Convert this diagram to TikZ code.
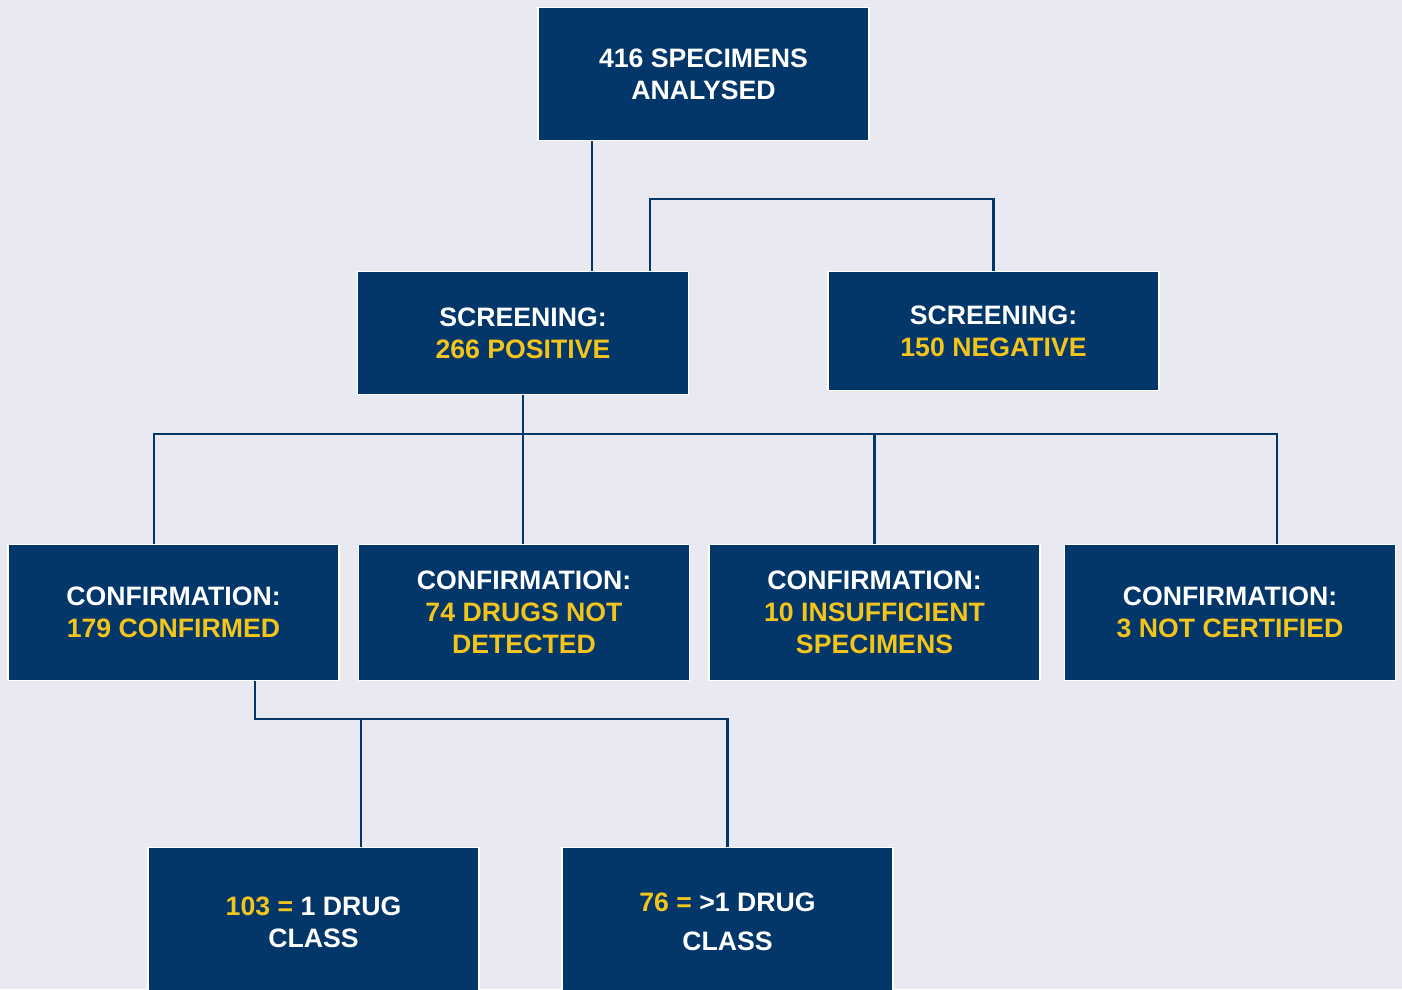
\documentclass[tikz,border=0pt]{standalone}
\usepackage{fontspec}
\setmainfont{Liberation Sans}
\definecolor{navy}{HTML}{03376A}
\definecolor{gold}{HTML}{F3C41C}
\definecolor{bg}{HTML}{E9EAF1}
\begin{document}
\begin{tikzpicture}[x=0.75pt,y=-0.75pt,
  box/.style={fill=navy,draw=white,line width=1.2pt,inner sep=0pt,align=center,
    text=white,font=\fontsize{20}{24}\selectfont\bfseries,minimum width=248pt},
  conn/.style={draw=navy,line width=1.6pt}]
\fill[bg] (0,0) rectangle (1402,989);
\useasboundingbox (0,0) rectangle (1402,989);
\clip (0,0) rectangle (1402,989);
\node[box,minimum height=100pt] (top) at (703.5,74) {416 SPECIMENS\\ANALYSED};
\node[box,minimum height=92pt] (pos) at (523,333) {SCREENING:\\\textcolor{gold}{266 POSITIVE}};
\node[box,minimum height=89pt] (neg) at (993.5,331) {SCREENING:\\\textcolor{gold}{150 NEGATIVE}};
\node[box,minimum height=102pt] (c1) at (173.5,612.5) {CONFIRMATION:\\\textcolor{gold}{179 CONFIRMED}};
\node[box,minimum height=102pt] (c2) at (524,612.5) {CONFIRMATION:\\\textcolor{gold}{74 DRUGS NOT}\\\textcolor{gold}{DETECTED}};
\node[box,minimum height=102pt] (c3) at (874.5,612.5) {CONFIRMATION:\\\textcolor{gold}{10 INSUFFICIENT}\\\textcolor{gold}{SPECIMENS}};
\node[box,minimum height=102pt] (c4) at (1230,612.5) {CONFIRMATION:\\\textcolor{gold}{3 NOT CERTIFIED}};
\node[box,minimum height=112pt] (b1) at (313.5,922) {\textcolor{gold}{103 =} 1 DRUG\\CLASS};
\node[box,minimum height=112pt] (b2) at (727.5,922) {\textcolor{gold}{76 =} >1 DRUG\\[5pt]CLASS};
\draw[conn] (top.south -| 592,0) -- (pos.north -| 592,0);
\draw[conn] (pos.north -| 650,0) -- (650,199) -| (neg.north);
\draw[conn] (pos.south) -- (c2.north -| pos.south);
\draw[conn] (c1.north -| 154,0) -- (154,434) -- (1277,434) -- (c4.north -| 1277,0);
\draw[conn] (c3.north) -- (c3.north |- 0,434);
\draw[conn] (c1.south -| 255,0) -- (255,719) -| (b2.north);
\draw[conn] (361,719) -- (b1.north -| 361,0);
\end{tikzpicture}
\end{document}
